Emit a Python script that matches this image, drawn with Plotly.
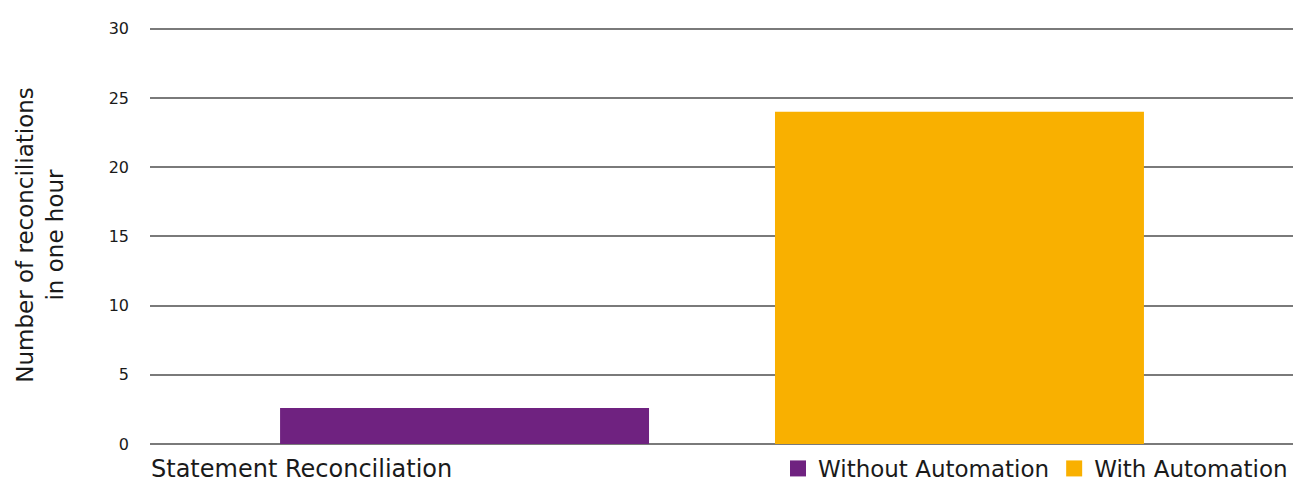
import plotly.graph_objects as go

categories = ["Statement Reconciliation"]
series_names = ["Without Automation", "With Automation"]
without_automation = [2.6]
with_automation = [24]
y_ticks = [0, 5, 10, 15, 20, 25, 30]
colors = ["#6F2280", "#F9B000"]

FONT = "DejaVu Sans, sans-serif"
TXT = "#1a1a1a"

fig = go.Figure()
for name, vals, col in zip(series_names, [without_automation, with_automation], colors):
    fig.add_trace(go.Bar(x=categories, y=vals, name=name, showlegend=False,
                         marker=dict(color=col, line=dict(width=0))))
# legend entries with larger square swatches
for name, col in zip(series_names, colors):
    fig.add_trace(go.Scatter(x=[None], y=[None], mode="markers", name=name,
                             marker=dict(symbol="square", size=17, color=col)))

fig.update_layout(
    width=1298, height=484,
    margin=dict(l=150, r=5, t=26, b=40, autoexpand=False),
    paper_bgcolor="white", plot_bgcolor="white",
    barmode="group", bargap=0.134, bargroupgap=0.2545,
    font=dict(family=FONT, color=TXT),
    showlegend=True,
    legend=dict(orientation="h", x=1.0, xanchor="right", y=-0.11, yanchor="bottom",
                font=dict(size=23, family=FONT, color=TXT), itemwidth=30,
                tracegroupgap=0, borderwidth=0,
                traceorder="normal", bgcolor="rgba(0,0,0,0)"),
    xaxis=dict(showticklabels=False, showgrid=False, zeroline=False, showline=False,
               range=[-0.4917, 0.5083]),
    yaxis=dict(range=[0, 30.2], tickvals=y_ticks, showgrid=True, gridcolor="#7a7a7a", gridwidth=2,
               zeroline=True, zerolinecolor="#7a7a7a", zerolinewidth=2, showline=False,
               automargin=False,
               ticks="", ticklabelstandoff=20, tickfont=dict(size=16, family=FONT, color=TXT),
               title=dict(text="Number of reconciliations<br>in one hour", standoff=38,
                          font=dict(size=23, family=FONT, color=TXT))),
    annotations=[dict(text=categories[0], x=0, xref="paper", xanchor="left",
                      y=-0.0957, yref="paper", yanchor="bottom", showarrow=False,
                      borderpad=0,
                      font=dict(size=24, family=FONT, color=TXT))],
)

fig.write_html("out.html", config={"displayModeBar": False},
               post_script="document.body.style.margin='0';document.body.style.padding='0';")
